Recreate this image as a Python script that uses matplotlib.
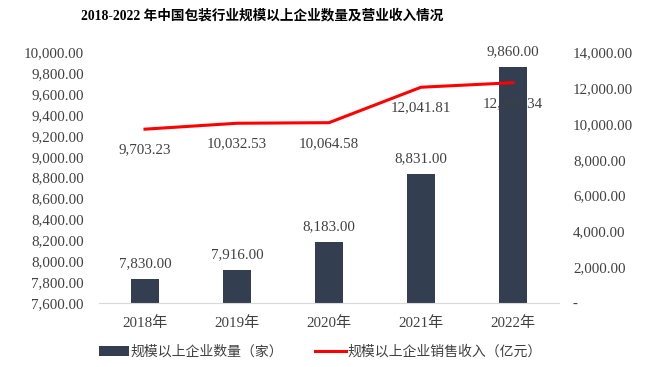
#!/usr/bin/env python3
"""2018-2022 中国包装行业规模以上企业数量及营业收入情况."""

import matplotlib.pyplot as plt
from matplotlib.ticker import FuncFormatter, MultipleLocator

years = ["2018年", "2019年", "2020年", "2021年", "2022年"]
firm_count = [7830.00, 7916.00, 8183.00, 8831.00, 9860.00]
revenue = [9703.23, 10032.53, 10064.58, 12041.81, 12293.34]

bar_label = "规模以上企业数量（家）"
line_label = "规模以上企业销售收入（亿元）"
title = "2018-2022 年中国包装行业规模以上企业数量及营业收入情况"

FONT = ["Liberation Serif", "Noto Sans CJK SC", "DejaVu Sans"]
BAR_COLOR = "#333F50"
LINE_COLOR = "#FF0000"
TEXT_COLOR = "#404040"


def fmt(v, _pos=None):
    return "-" if v == 0 else f"{v:,.2f}"


def main() -> None:
    plt.rcParams["font.family"] = FONT
    plt.rcParams["font.size"] = 10.8

    fig = plt.figure(figsize=(6.6, 3.67), dpi=100)
    ax = fig.add_axes([0.15, 0.174, 0.697, 0.684])
    ax2 = ax.twinx()

    x = list(range(len(years)))
    bars = ax.bar(x, firm_count, width=0.31, color=BAR_COLOR, label=bar_label, zorder=2)
    ax.set_ylim(7600, 10000)
    ax.yaxis.set_major_locator(MultipleLocator(200))
    ax.yaxis.set_major_formatter(FuncFormatter(fmt))
    ax.set_xlim(-0.5, len(years) - 0.5)
    ax.set_xticks(x)
    ax.set_xticklabels(years)

    (line,) = ax2.plot(x, revenue, color=LINE_COLOR, lw=2.2, label=line_label, zorder=3)
    ax2.set_ylim(0, 14000)
    ax2.yaxis.set_major_locator(MultipleLocator(2000))
    ax2.yaxis.set_major_formatter(FuncFormatter(fmt))

    for a in (ax, ax2):
        for s in a.spines.values():
            s.set_visible(False)
        a.tick_params(length=0, colors=TEXT_COLOR, labelsize=10.8)
    ax.spines["bottom"].set_visible(True)
    ax.spines["bottom"].set_color("#D9D9D9")
    ax.tick_params(axis="x", pad=9)
    ax.tick_params(axis="y", pad=11)
    ax2.tick_params(axis="y", pad=10)

    for b, v in zip(bars, firm_count):
        ax.annotate(fmt(v), (b.get_x() + b.get_width() / 2, v), xytext=(0, 11),
                    textcoords="offset points", ha="center", va="center",
                    color=TEXT_COLOR, fontsize=10.8)
    for xi, v in zip(x, revenue):
        ax2.annotate(fmt(v), (xi, v), xytext=(0, -15), textcoords="offset points",
                     ha="center", va="center", color=TEXT_COLOR, fontsize=10.8)

    fig.text(0.397, 0.958, title, ha="center", va="center", fontsize=9.8,
             fontweight="bold", color="black")

    leg = fig.legend([bars, line], [bar_label, line_label], loc="center",
                     bbox_to_anchor=(0.485, 0.04), ncol=2, frameon=False,
                     fontsize=10, handlelength=2.2, handletextpad=0.1,
                     columnspacing=2.3)
    for t in leg.get_texts():
        t.set_color(TEXT_COLOR)

    fig.savefig("out.png", dpi=100)


if __name__ == "__main__":
    main()
